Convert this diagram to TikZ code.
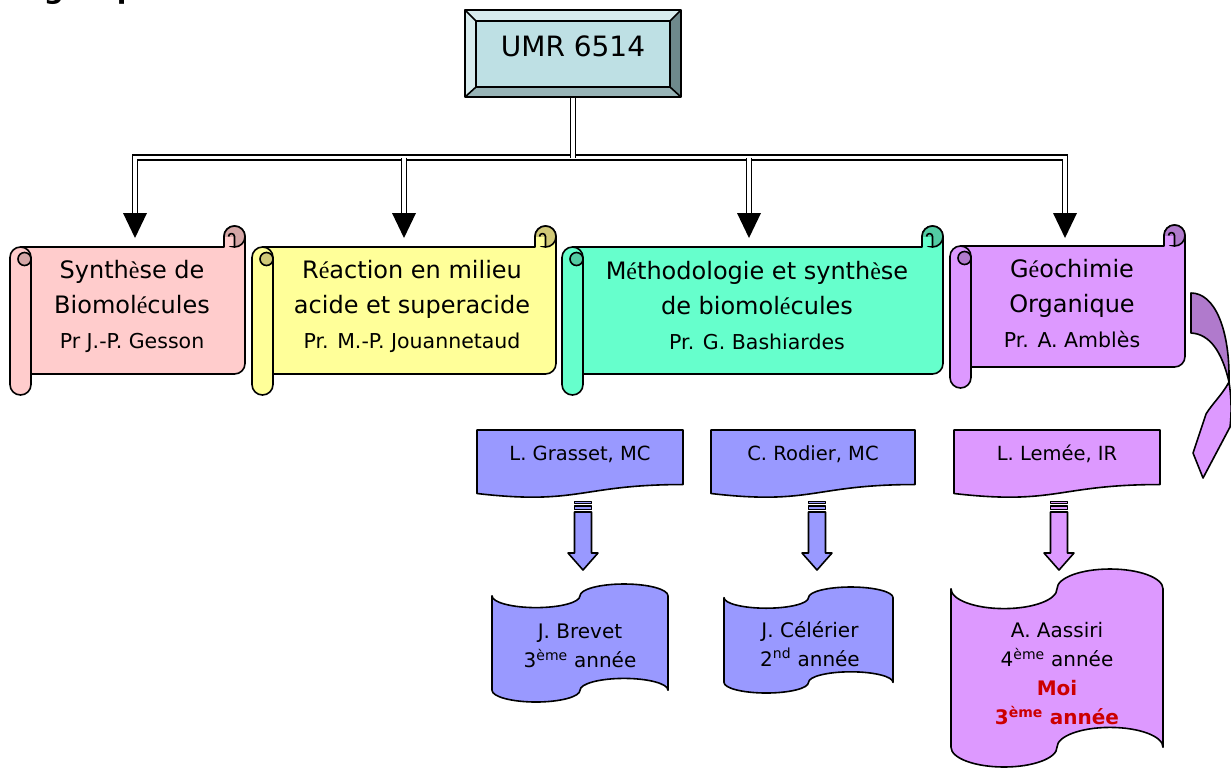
\documentclass[tikz,border=0pt]{standalone}
\usepackage{fontspec}
\setmainfont{DejaVu Sans}
\newfontfamily\accfont{Liberation Serif}
\definecolor{pinkfill}{HTML}{FFCCCC}
\definecolor{pinkdark}{HTML}{D5A6A6}
\definecolor{yellowfill}{HTML}{FFFF99}
\definecolor{yellowdark}{HTML}{D1C978}
\definecolor{greenfill}{HTML}{66FFCC}
\definecolor{greendark}{HTML}{52CCA3}
\definecolor{violetfill}{HTML}{DD99FF}
\definecolor{violetdark}{HTML}{B07ACC}
\definecolor{bluefill}{HTML}{9999FF}
\definecolor{umrface}{HTML}{BEE0E4}
\definecolor{umrlight}{HTML}{D7ECEE}
\definecolor{umrlow}{HTML}{98B4B7}
\definecolor{umrdark}{HTML}{6E898C}
\definecolor{moired}{HTML}{CC0000}

% horizontal scroll: x0 y0 x1 y1 fill curl
\newcommand{\ScrollShape}[6]{%
  \filldraw[fill=#5] ({#1+10.5},{#2+21}) -- ({#3-21},{#2+21}) -- ({#3-21},{#2+10.5})
    arc[start angle=180,end angle=360,radius=10.5] -- (#3,{#4-31.5})
    arc[start angle=0,end angle=90,radius=10.5] -- ({#1+10.5},{#4-21}) -- cycle;
  \filldraw[fill=#6] ({#3-10.5},{#2+10.5}) circle[radius=10.5];
  \fill[#5] ({#3-20.2},{#2+10.5}) rectangle ({#3-10.5},{#2+20.2});
  \draw ({#3-10.5},{#2+21}) -- ({#3-10.5},{#2+10.5}) arc[start angle=0,end angle=-180,radius=3];
  \filldraw[fill=#5] (#1,{#2+31.5}) arc[start angle=180,end angle=360,radius=10.5]
    -- ({#1+21},{#4-10.5}) arc[start angle=0,end angle=180,radius=10.5] -- cycle;
  \filldraw[fill=#6] ({#1+14.5},{#2+33}) circle[radius=6.5];
}
% flowchart document: x0 y0 x1 y1 fill
\newcommand{\DocShape}[5]{%
  \filldraw[fill=#5] (#1,#2) -- (#3,#2) -- (#3,{#2+0.802*(#4-#2)})
    .. controls ({(#1+#3)/2},{#2+0.802*(#4-#2)}) and ({(#1+#3)/2},{#2+1.108*(#4-#2)})
    .. (#1,{#2+0.934*(#4-#2)}) -- cycle;
}
% punched tape: x0 y0 x1 y1 fill
\newcommand{\TapeShape}[5]{%
  \filldraw[fill=#5] (#1,{#2+(#4-#2)/10})
    arc[start angle=180,end angle=0,x radius={(#3-#1)/4},y radius={(#4-#2)/10}]
    arc[start angle=180,end angle=360,x radius={(#3-#1)/4},y radius={(#4-#2)/10}]
    -- (#3,{#4-(#4-#2)/10})
    arc[start angle=0,end angle=-180,x radius={(#3-#1)/4},y radius={(#4-#2)/10}]
    arc[start angle=0,end angle=180,x radius={(#3-#1)/4},y radius={(#4-#2)/10}]
    -- cycle;
}
% striped block arrow pointing down, centred on x
\newcommand{\StripedDown}[2]{%
  \filldraw[fill=#2] ({#1-8.5},501.5) rectangle ({#1+8.5},503.5);
  \filldraw[fill=#2] ({#1-8.5},506) rectangle ({#1+8.5},509.5);
  \filldraw[fill=#2] ({#1-8.5},512) -- ({#1+8.5},512) -- ({#1+8.5},553) -- ({#1+15},553)
    -- (#1,570) -- ({#1-15},553) -- ({#1-8.5},553) -- cycle;
}
% triangular head at the end of a double connector
\newcommand{\DropHead}[1]{\fill ({#1-12},213) -- ({#1+12},213) -- (#1,238) -- cycle;}

\begin{document}
\begin{tikzpicture}[x=1pt,y=-1pt,line width=1.6pt,line join=round,
  dbl/.style={double=white,double distance=3.6pt,line width=1.4pt,line join=miter},
  lbl/.style={align=center,inner sep=0pt,font=\fontsize{24}{35}\selectfont},
  doclbl/.style={inner sep=0pt,font=\fontsize{19.5}{24}\selectfont},
  tapelbl/.style={align=center,inner sep=0pt,font=\fontsize{20}{29}\selectfont}]
\useasboundingbox (0,0) rectangle (1231,769);

% heading, cut by the top edge
\begin{scope}
  \clip (0,0) rectangle (1231,769);
  \node[anchor=base west,inner sep=0pt,font=\bfseries\fontsize{28}{30}\selectfont] (heading) at (43,-2) {groupe};
\end{scope}

% bevelled top box
\node[minimum width=216,minimum height=87,inner sep=0pt] (umrbox) at (573,53.5) {};
\fill[umrlight] (465,10) -- (681,10) -- (670,21) -- (476,21) -- cycle;
\fill[umrlight] (465,10) -- (476,21) -- (476,87) -- (465,97) -- cycle;
\fill[umrlow] (465,97) -- (476,87) -- (670,87) -- (681,97) -- cycle;
\fill[umrdark] (681,10) -- (681,97) -- (670,87) -- (670,21) -- cycle;
\node[draw,fill=umrface,minimum width=194,minimum height=66,inner sep=0pt] (umrface) at (573,54) {};
\draw (465,10) rectangle (681,97);
\draw (465,10) -- (476,21) (681,10) -- (670,21) (465,97) -- (476,87) (681,97) -- (670,87);
\node[inner sep=0pt,font=\fontsize{28}{30}\selectfont] (umr) at (573,46) {UMR 6514};

% double-line connectors
\coordinate (busL) at (135,157.5);
\coordinate (busR) at (1065,157.5);
\draw[dbl] (135,214) -- (busL) -- (busR) -- (1065,214);
\draw[dbl] (404,157.5) -- (404,214);
\draw[dbl] (749,157.5) -- (749,214);
\draw[dbl] (umrbox.south) -- (573,157.5);
\DropHead{135}\DropHead{404}\DropHead{749}\DropHead{1065}

% team scrolls
\ScrollShape{10}{226}{245}{395}{pinkfill}{pinkdark}
\ScrollShape{252}{226}{556}{395}{yellowfill}{yellowdark}
\ScrollShape{562}{226}{943}{395}{greenfill}{greendark}
\ScrollShape{950}{225}{1185}{388}{violetfill}{violetdark}
\node[lbl] (team1) at (132,306) {Synth{\accfont è}se de\\Biomol{\accfont é}cules\\{\fontsize{20.5}{35}\selectfont Pr J.-P. Gesson}};
\node[lbl] (team2) at (412,306) {R{\accfont é}action en milieu\\acide et superacide\\{\fontsize{20.5}{35}\selectfont Pr. M.-P. Jouannetaud}};
\node[lbl] (team3) at (757,306) {M{\accfont é}thodologie et synth{\accfont è}se\\de biomol{\accfont é}cules\\{\fontsize{20.5}{35}\selectfont Pr. G. Bashiardes}};
\node[lbl] (team4) at (1072,304) {G{\accfont é}ochimie\\Organique\\{\fontsize{20.5}{35}\selectfont Pr. A. Amblès}};

% curved arrow beside the last scroll
\filldraw[fill=violetdark] (1191,293) .. controls (1215,293) and (1230,330) .. (1229,382)
  .. controls (1222,352) and (1210,334) .. (1191,333) -- cycle;
\filldraw[fill=violetfill] (1229,382) .. controls (1222,395) and (1212,404) .. (1206,414)
  -- (1193,453) -- (1203,478) -- (1230,427)
  .. controls (1232,410) and (1231,395) .. (1229,382) -- cycle;

% supervisors
\DocShape{477}{430}{683}{498}{bluefill}
\DocShape{711}{430}{915}{498}{bluefill}
\DocShape{954}{430}{1160}{498}{violetfill}
\node[doclbl] (grasset) at (580,454) {L. Grasset, MC};
\node[doclbl] (rodier) at (813,454) {C. Rodier, MC};
\node[doclbl] (lemee) at (1057,454) {L. Lemée, IR};

\StripedDown{583}{bluefill}
\StripedDown{817}{bluefill}
\StripedDown{1059}{violetfill}

% students
\TapeShape{492}{584}{668}{702}{bluefill}
\TapeShape{724}{587}{893}{693}{bluefill}
\TapeShape{951}{569}{1163}{767}{violetfill}
\node[tapelbl] (brevet) at (580,646) {J. Brevet\\3\textsuperscript{ème} année};
\node[tapelbl] (celerier) at (810,644) {J. Célérier\\2\textsuperscript{nd} année};
\node[tapelbl] (aassiri) at (1057,674) {A. Aassiri\\4\textsuperscript{ème} année\\{\color{moired}\bfseries Moi}\\{\color{moired}\bfseries 3\textsuperscript{ème} année}};
\end{tikzpicture}
\end{document}
